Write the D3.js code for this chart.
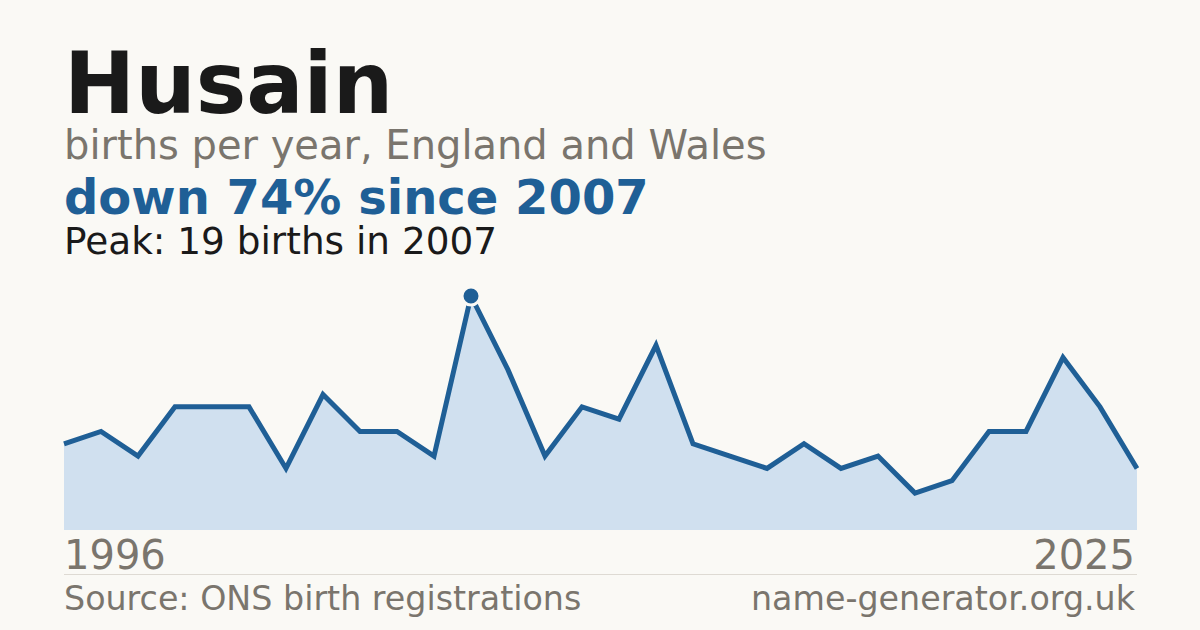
<!DOCTYPE html>
<html>
<head>
<meta charset="utf-8">
<script src="https://cdn.jsdelivr.net/npm/d3@7"></script>
<style>
  html, body { margin: 0; padding: 0; background: #faf9f5; }
  svg { display: block; font-family: 'DejaVu Sans', sans-serif; }
</style>
</head>
<body>
<svg id="chart" width="1200" height="630"></svg>
<script>
const width = 1200;
const height = 630;
const margin = {left: 64, right: 63, top: 296, bottom: 100};
const blue = '#1f5f96';
const grey = '#7a756d';

// births per year, 1996..2025
const years = d3.range(1996, 2026);
const births = [7, 8, 6, 10, 10, 10, 5, 11, 8, 8, 6, 19, 13, 6, 10, 9, 15, 7, 6, 5,
  7, 5, 6, 3, 4, 8, 8, 14, 10, 5];
const peakYear = 2007;
const peakValue = 19;

const data = years.map((y, i) => ({year: y, value: births[i]}));

const svg = d3.select('#chart');
svg.append('rect').attr('width', width).attr('height', height).attr('fill', '#faf9f5');

const x = d3.scaleLinear()
  .domain([years[0], years[years.length - 1]])
  .range([margin.left, width - margin.right]);
const y = d3.scaleLinear()
  .domain([0, peakValue])
  .range([530, margin.top]);

// Headings
svg.append('text').attr('x', 64).attr('y', 113)
  .attr('font-size', 85).attr('font-weight', 'bold').attr('fill', '#1a1a1a')
  .text('Husain');
svg.append('text').attr('x', 64).attr('y', 159)
  .attr('font-size', 40).attr('fill', grey)
  .text('births per year, England and Wales');
svg.append('text').attr('x', 64).attr('y', 214)
  .attr('font-size', 48).attr('font-weight', 'bold').attr('fill', blue)
  .text('down 74% since 2007');
svg.append('text').attr('x', 64).attr('y', 254)
  .attr('font-size', 37.4).attr('fill', '#1a1a1a')
  .text('Peak: 19 births in 2007');

// Area + line
const area = d3.area()
  .x((d) => x(d.year))
  .y0(y(0))
  .y1((d) => y(d.value));
const line = d3.line()
  .x((d) => x(d.year))
  .y((d) => y(d.value));

svg.append('path').datum(data)
  .attr('d', area)
  .attr('fill', '#d0e0ef');
svg.append('path').datum(data)
  .attr('d', line)
  .attr('fill', 'none')
  .attr('stroke', blue)
  .attr('stroke-width', 5)
  .attr('stroke-linejoin', 'miter');

// Peak marker
svg.append('circle')
  .attr('cx', x(peakYear)).attr('cy', y(peakValue))
  .attr('r', 9)
  .attr('fill', blue)
  .attr('stroke', '#faf9f5')
  .attr('stroke-width', 3);

// Year labels
svg.append('text').attr('x', x(years[0])).attr('y', 569)
  .attr('font-size', 40).attr('fill', grey)
  .text(years[0]);
svg.append('text').attr('x', x(years[years.length - 1]) - 2).attr('y', 569)
  .attr('font-size', 40).attr('fill', grey).attr('text-anchor', 'end')
  .text(years[years.length - 1]);

// Divider
svg.append('line')
  .attr('x1', margin.left).attr('x2', width - margin.right)
  .attr('y1', 574.5).attr('y2', 574.5)
  .attr('stroke', '#dedad3').attr('stroke-width', 1);

// Footer
svg.append('text').attr('x', 64).attr('y', 610)
  .attr('font-size', 33.3).attr('fill', grey)
  .text('Source: ONS birth registrations');
svg.append('text').attr('x', width - margin.right - 2).attr('y', 610)
  .attr('font-size', 33.3).attr('fill', grey).attr('text-anchor', 'end')
  .text('name-generator.org.uk');
</script>
</body>
</html>
